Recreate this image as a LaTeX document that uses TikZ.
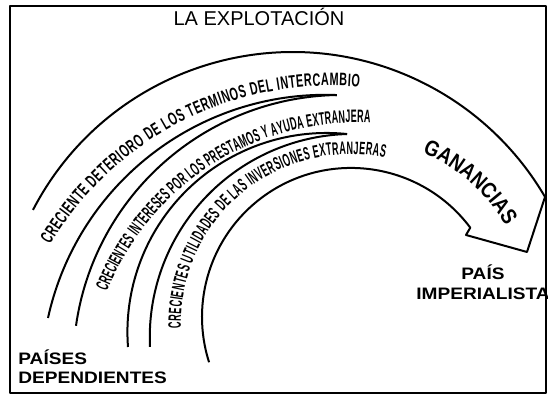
\documentclass[tikz,border=0pt]{standalone}
\usepackage{fontspec}
\setmainfont{Liberation Sans}
\newfontfamily\arcfont[FakeStretch=0.6]{Liberation Sans}
\newfontfamily\arcnarrowfont[FakeStretch=0.5]{Liberation Sans}
\newfontfamily\ganfont[FakeStretch=0.85]{Liberation Sans}
\newfontfamily\labelfont[FakeStretch=1.15]{Liberation Sans}
\usetikzlibrary{decorations.text}

\begin{document}
\begin{tikzpicture}[x=0.5pt, y=0.5pt, line join=round]
    \tikzstyle{band}=[line width=1pt]
    \tikzstyle{lettering}=[font=\labelfont\fontsize{8.3}{9.5}\selectfont\bfseries, inner sep=0pt]
    \tikzstyle{along}=[decorate]

    \useasboundingbox (0,0) rectangle (548,395);
    \draw[line width=1pt] (10,2) rectangle (546,389);

    \node[font=\fontsize{10}{12}\selectfont, inner sep=0pt, anchor=base] (title) at (259,369) {LA EXPLOTACIÓN};

    \coordinate (tip)   at (527,143);
    \coordinate (notch) at (466,160);

    \draw[band] (33,185.1) arc[start angle=152.6, end angle=30.3, radius=292.4]
        -- (tip) -- (notch) -- (470.3,167.3) arc[start angle=36.8, end angle=197.7, radius=149];

    \draw[band] (48,77)    arc[start angle=167.6, end angle=87.7, radius=284.2];
    \draw[band] (76,69.2)  arc[start angle=171.9, end angle=91.1, radius=268.7];
    \draw[band] (128,48)   arc[start angle=184.3, end angle=84.1, radius=199.1];
    \draw[band] (150,48.1) arc[start angle=182.7, end angle=91.7, radius=203.4];

    \path[along, decoration={text along path, text align=fit to path,
        text={|\arcfont\fontsize{9}{9}\selectfont\bfseries|CRECIENTE DETERIORO DE LOS TERMINOS DEL INTERCAMBIO}}]
        (50.2,150.2) arc[start angle=149.1, end angle=85, radius=326.8];
    \path[along, decoration={text along path, text align=fit to path,
        text={|\arcnarrowfont\fontsize{9}{9}\selectfont\bfseries|CRECIENTES INTERESES POR LOS PRESTAMOS Y AYUDA EXTRANJERA}}]
        (107,103) arc[start angle=158.3, end angle=87.2, radius=268.8];
    \path[along, decoration={text along path, text align=fit to path,
        text={|\arcnarrowfont\fontsize{9}{9}\selectfont\bfseries|CRECIENTES UTILIDADES DE LAS INVERSIONES EXTRANJERAS}}]
        (181,66.9) arc[start angle=181.6, end angle=78.1, radius=169.1];
    \path[along, decoration={text along path, text align=center,
        text={|\ganfont\fontsize{11}{11}\selectfont\bfseries|GANANCIAS}}]
        (412.4,246.7) arc[start angle=70, end angle=27, radius=179.5];

    \node[lettering, anchor=base] (pais)          at (483,115) {PAÍS};
    \node[lettering, anchor=base] (imperialista)  at (483,95)  {IMPERIALISTA};
    \node[lettering, anchor=base west] (paises)        at (18,30) {PAÍSES};
    \node[lettering, anchor=base west] (dependientes)  at (18,11) {DEPENDIENTES};
\end{tikzpicture}
\end{document}
